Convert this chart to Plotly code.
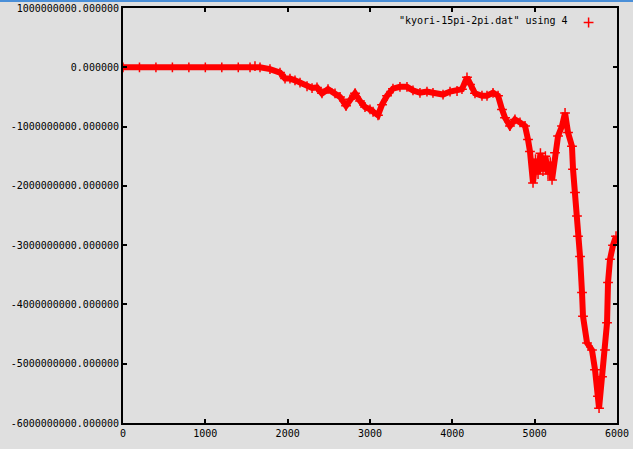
import plotly.graph_objects as go

# Data (x = row index, y in units of 1e9)
x_index = [0, 200, 400, 600, 800, 1000, 1200, 1400, 1543, 1603, 1664, 1785, 1907, 1968,
           2028, 2089, 2150, 2235, 2296, 2356, 2417, 2490, 2575, 2636, 2709, 2757, 2818,
           2879, 2939, 3000, 3037, 3097, 3146, 3207, 3279, 3364, 3449, 3522, 3607, 3692,
           3765, 3887, 3972, 4057, 4117, 4178, 4215, 4275, 4360, 4421, 4494, 4555, 4603,
           4640, 4700, 4761, 4822, 4883, 4919, 4943, 4980, 5010, 5041, 5070, 5101, 5130,
           5162, 5190, 5211, 5247, 5284, 5332, 5369, 5405, 5453, 5466, 5490, 5514, 5526,
           5551, 5575, 5587, 5636, 5696, 5733, 5769, 5782, 5818, 5854, 5879, 5891, 5915,
           5952, 5988]
y_billion = [0, 0, 0, 0, 0, 0, 0, 0, 0, 0.02, 0.0, -0.03, -0.09, -0.19,
             -0.19, -0.22, -0.26, -0.32, -0.35, -0.34, -0.44, -0.37, -0.44, -0.50, -0.65, -0.54, -0.44,
             -0.57, -0.67, -0.71, -0.75, -0.81, -0.63, -0.48, -0.36, -0.33, -0.33, -0.39, -0.43, -0.41,
             -0.43, -0.46, -0.41, -0.40, -0.37, -0.17, -0.29, -0.44, -0.48, -0.48, -0.43, -0.48, -0.71,
             -0.85, -0.99, -0.88, -0.93, -0.99, -1.22, -1.42, -1.95, -1.55, -1.80, -1.45, -1.75, -1.50,
             -1.80, -1.60, -1.90, -1.44, -1.16, -0.99, -0.77, -1.10, -1.33, -1.72, -2.11, -2.51, -2.85,
             -3.19, -3.80, -4.20, -4.65, -4.77, -5.10, -5.55, -5.75, -5.22, -4.77, -4.31, -3.63, -3.24,
             -3.00, -2.85]
y_values = [v * 1e9 for v in y_billion]

x_ticks = [0, 1000, 2000, 3000, 4000, 5000, 6000]
x_tick_labels = ["0", "1000", "2000", "3000", "4000", "5000", "6000"]
y_ticks = [1e9, 0, -1e9, -2e9, -3e9, -4e9, -5e9, -6e9]
y_tick_labels = ["1000000000.000000", "0.000000", "-1000000000.000000", "-2000000000.000000",
                 "-3000000000.000000", "-4000000000.000000", "-5000000000.000000",
                 "-6000000000.000000"]
series_name = '"kyori-15pi-2pi.dat" using 4'

RED = "#ff0000"
BG = "#dfdfdf"
FONT = dict(family="DejaVu Sans Mono", size=10, color="#000000")

fig = go.Figure()
fig.add_trace(go.Scatter(x=x_index, y=y_values, mode="lines",
                         line=dict(color=RED, width=6), showlegend=False,
                         hoverinfo="skip"))
fig.add_trace(go.Scatter(x=x_index, y=y_values, mode="markers", name="",
                         marker=dict(symbol="cross-thin", size=7, color=RED,
                                     line=dict(color=RED, width=1.5)),
                         showlegend=True))

axis_common = dict(showline=True, linecolor="#000000", linewidth=2, mirror="ticks",
                   ticks="inside", ticklen=4, tickwidth=2, tickcolor="#000000",
                   showgrid=False, zeroline=False, tickfont=FONT, automargin=False)

fig.update_layout(
    width=633, height=449,
    margin=dict(l=123, r=16, t=8, b=26),
    paper_bgcolor=BG, plot_bgcolor=BG,
    font=FONT,
    xaxis=dict(range=[0, 6000], tickvals=x_ticks, ticktext=x_tick_labels, **axis_common),
    yaxis=dict(range=[-6e9, 1e9], tickvals=y_ticks, ticktext=y_tick_labels, **axis_common),
    legend=dict(x=0.902, y=1.0, xanchor="left", yanchor="top", bgcolor="rgba(0,0,0,0)",
                borderwidth=0, font=FONT),
    annotations=[dict(text=series_name, xref="paper", yref="paper", x=0.905, y=(423 - 20) / 415,
                      xanchor="right", yanchor="middle", showarrow=False, font=FONT)],
    shapes=[dict(type="line", xref="paper", yref="paper", x0=-0.25, x1=1.04,
                 y0=1.0 + 7 / 415, y1=1.0 + 7 / 415, line=dict(color="#4a8fd8", width=2))],
)

fig.write_html("out.html", config={"displayModeBar": False},
               post_script="document.body.style.margin='0';"
                           "document.body.style.background='#dfdfdf';")
